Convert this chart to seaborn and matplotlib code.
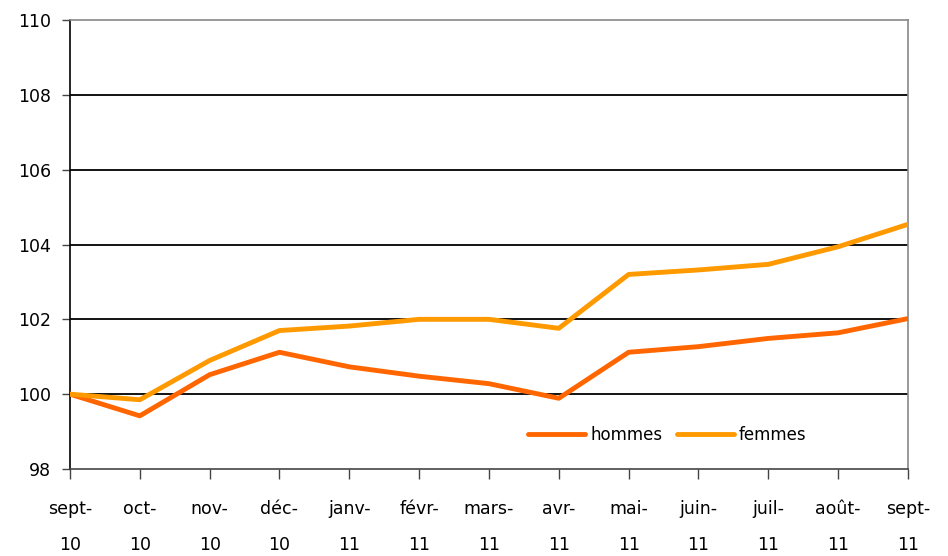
import matplotlib
matplotlib.use("Agg")
import matplotlib.pyplot as plt
import seaborn as sns
import pandas as pd

# month labels (two lines each, as in the source chart)
mois = ["sept-\n10", "oct-\n10", "nov-\n10", "déc-\n10", "janv-\n11", "févr-\n11",
        "mars-\n11", "avr-\n11", "mai-\n11", "juin-\n11", "juil-\n11", "août-\n11", "sept-\n11"]

hommes = [100.0, 99.42, 100.52, 101.12, 100.73, 100.48, 100.28, 99.89,
          101.12, 101.27, 101.49, 101.64, 102.02]
femmes = [100.0, 99.85, 100.9, 101.7, 101.82, 102.0, 102.0, 101.76,
          103.2, 103.32, 103.47, 103.94, 104.54]

y_ticks = [98, 100, 102, 104, 106, 108, 110]

df = pd.DataFrame({
    "pos": list(range(len(mois))) * 2,
    "valeur": hommes + femmes,
    "sexe": ["hommes"] * len(mois) + ["femmes"] * len(mois),
})

sns.set_style("white")
plt.rcParams["font.family"] = ["DejaVu Sans"]
plt.rcParams["text.color"] = "black"
plt.rcParams["xtick.color"] = "black"
plt.rcParams["ytick.color"] = "black"

fig = plt.figure(figsize=(9.48, 5.56), dpi=100)
ax = fig.add_axes([0.0738, 0.1565, 0.8840, 0.8075])

# horizontal grid lines
for v in y_ticks[1:-1]:
    ax.axhline(v, color="black", lw=1.3, zorder=1)

sns.lineplot(data=df, x="pos", y="valeur", hue="sexe",
             palette={"hommes": "#FF6600", "femmes": "#FF9900"},
             linewidth=3.5, ax=ax, zorder=3)

ax.set_xlim(0, len(mois) - 1)
ax.set_ylim(98, 110)
ax.set_xticks(range(len(mois)))
ax.set_xticklabels(mois, linespacing=2.3)
ax.set_yticks(y_ticks)
ax.set_xlabel("")
ax.set_ylabel("")

ax.tick_params(axis="x", direction="out", length=7, width=1, color="#444444",
               labelsize=12.5, labelcolor="black", pad=15, bottom=True)
ax.tick_params(axis="y", direction="out", length=6, width=1, color="#444444",
               labelsize=12.5, labelcolor="black", pad=7.5, left=True)

ax.spines["left"].set_color("black")
ax.spines["left"].set_linewidth(1.2)
ax.spines["bottom"].set_color("#444444")
ax.spines["bottom"].set_linewidth(1.2)
for side in ["top", "right"]:
    ax.spines[side].set_visible(True)
    ax.spines[side].set_color("#888888")
    ax.spines[side].set_linewidth(1.2)

ax.legend(loc="center", bbox_to_anchor=(0.713, 0.0757), ncol=2, frameon=False,
          fontsize=12, handlelength=3.4, handletextpad=0.3, columnspacing=0.9)

fig.savefig("out.png", dpi=100)
